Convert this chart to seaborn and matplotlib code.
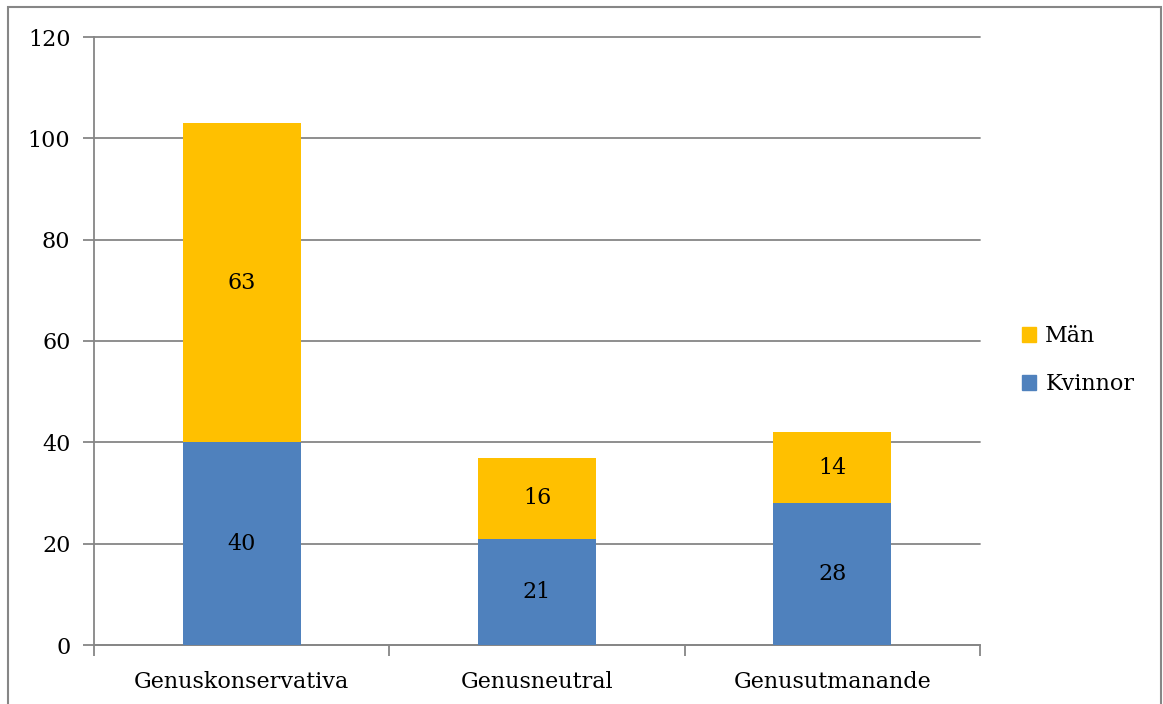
import pandas as pd
import matplotlib.pyplot as plt
import seaborn as sns
from matplotlib.patches import Rectangle, Patch

categories = ["Genuskonservativa", "Genusneutral", "Genusutmanande"]
kvinnor = [40, 21, 28]
man = [63, 16, 14]

BLUE = "#4F81BD"
YELLOW = "#FFC000"
GRID = "#868686"
FS = 16

sns.set_theme(style="white")
plt.rcParams['font.family'] = ['DejaVu Serif']
plt.rcParams['text.color'] = 'black'
plt.rcParams['xtick.labelcolor'] = 'black'
plt.rcParams['ytick.labelcolor'] = 'black'

df = pd.DataFrame({"kategori": categories, "Kvinnor": kvinnor, "Män": man})
df["total"] = df["Kvinnor"] + df["Män"]

W, H = 1163, 704
fig = plt.figure(figsize=(W / 100, H / 100), dpi=100)
ax = fig.add_axes([94 / W, 1 - 645 / H, (980 - 94) / W, (645 - 37) / H])

sns.barplot(data=df, x="kategori", y="total", color=YELLOW, width=0.4,
            saturation=1, ax=ax, linewidth=0, legend=False, zorder=2)
sns.barplot(data=df, x="kategori", y="Kvinnor", color=BLUE, width=0.4,
            saturation=1, ax=ax, linewidth=0, legend=False, zorder=3)

for i, row in df.iterrows():
    ax.text(i, row["Kvinnor"] / 2, str(row["Kvinnor"]), ha="center", va="center",
            fontsize=FS, color="black", zorder=4)
    ax.text(i, row["Kvinnor"] + row["Män"] / 2, str(row["Män"]), ha="center", va="center",
            fontsize=FS, color="black", zorder=4)

ax.set_ylim(0, 120)
ax.set_xlim(-0.5, 2.5)
ax.set_yticks(range(0, 121, 20))
ax.yaxis.grid(True, color=GRID, linewidth=1.3, zorder=0)
for gl in ax.get_ygridlines():
    gl.set_clip_on(False)
ax.set_axisbelow(True)
ax.set_xlabel("")
ax.set_ylabel("")

for s in ["top", "right"]:
    ax.spines[s].set_visible(False)
for s in ["left", "bottom"]:
    ax.spines[s].set_color(GRID)
    ax.spines[s].set_linewidth(1.3)

# category boundary ticks on the x axis, labels in between
ax.set_xticks([-0.5, 0.5, 1.5, 2.5])
ax.set_xticklabels([])
ax.set_xticks([0, 1, 2], minor=True)
ax.set_xticklabels(categories, minor=True)
ax.tick_params(axis="x", which="major", direction="out", length=8, width=1.3,
               color=GRID, bottom=True)
ax.tick_params(axis="x", which="minor", length=0, pad=19, labelsize=FS)
ax.tick_params(axis="y", direction="out", length=8, width=1.3, color=GRID,
               left=True, pad=9, labelsize=FS)

handles = [Patch(color=YELLOW, label="Män"), Patch(color=BLUE, label="Kvinnor")]
fig.legend(handles=handles, loc="center left", bbox_to_anchor=(1002 / W, 1 - 360 / H),
           frameon=False, fontsize=FS, handlelength=0.65, handleheight=0.65,
           handletextpad=0.4, labelspacing=1.18)

fig.patches.append(Rectangle((8 / W, -0.05), (1161 - 8) / W, 1 - 7 / H + 0.05,
                             transform=fig.transFigure, fill=False,
                             edgecolor=GRID, linewidth=1.5))

fig.savefig("out.png", dpi=100)
